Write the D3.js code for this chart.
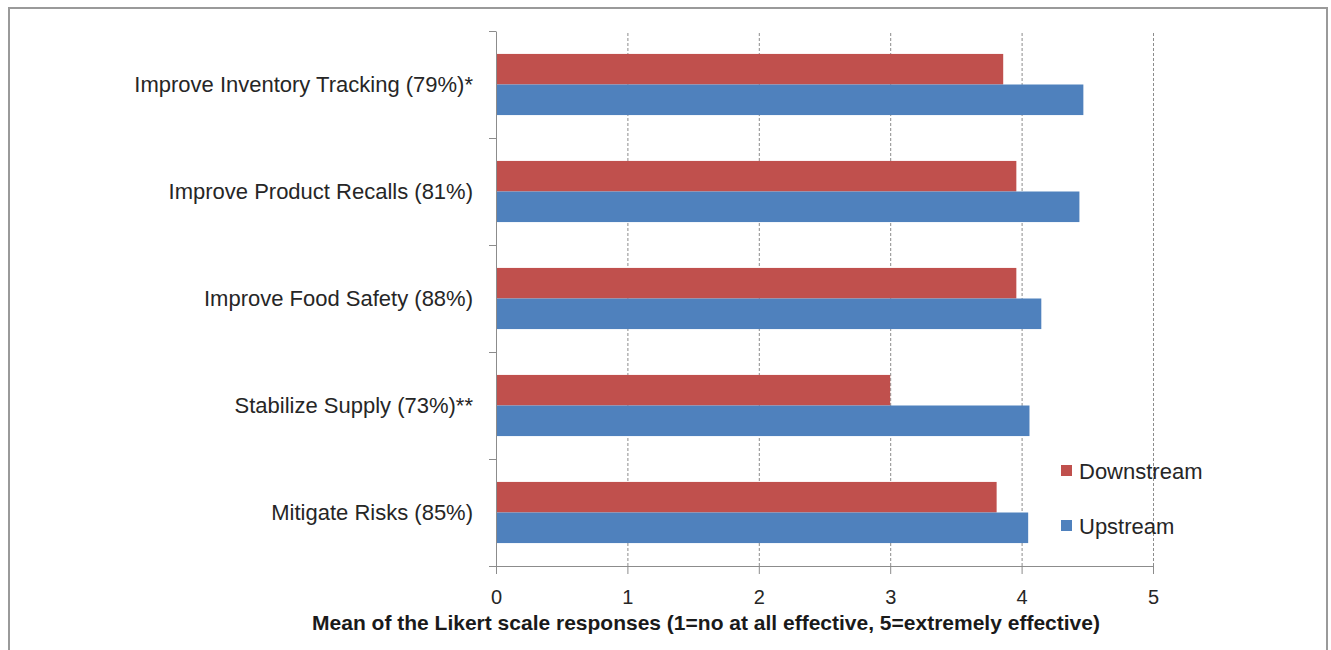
<!DOCTYPE html>
<html>
<head>
<meta charset="utf-8">
<script src="https://cdn.jsdelivr.net/npm/d3@7"></script>
<style>
  body { margin: 0; background: #fff; }
  svg { display: block; font-family: "Liberation Sans", Arial, sans-serif; }
</style>
</head>
<body>
<svg id="chart"></svg>
<script>
// categories top to bottom
const categories = [
  "Improve Inventory Tracking (79%)*",
  "Improve Product Recalls (81%)",
  "Improve Food Safety (88%)",
  "Stabilize Supply (73%)**",
  "Mitigate Risks (85%)"
];
const seriesNames = ["Downstream", "Upstream"];
const downstream = [3.86, 3.96, 3.96, 3.00, 3.81];
const upstream = [4.47, 4.44, 4.15, 4.06, 4.05];
const xTicks = [0, 1, 2, 3, 4, 5];
const colors = ["#C0504D", "#4F81BD"];
const axisTitle = "Mean of the Likert scale responses (1=no at all effective, 5=extremely effective)";

const width = 1331, height = 650;
const plot = { left: 496, right: 1153, top: 31, bottom: 566 };

const svg = d3.select("#chart")
  .attr("width", width)
  .attr("height", height);

// outer frame (bottom edge is cut off in the original)
svg.append("path")
  .attr("d", `M9,${height} V8 H1327 V${height}`)
  .attr("fill", "none")
  .attr("stroke", "#9a9a9a")
  .attr("stroke-width", 2);

const x = d3.scaleLinear().domain([0, 5]).range([plot.left, plot.right]);
const y = d3.scaleBand().domain(categories).range([plot.top, plot.bottom]);
const ySub = d3.scaleBand().domain(seriesNames).range([0, y.bandwidth()]).paddingOuter(0.75);
const yEdges = d3.scaleLinear().domain([0, categories.length]).range([plot.bottom, plot.top]);

// dashed gridlines
svg.append("g")
  .attr("transform", `translate(0,${plot.bottom})`)
  .call(d3.axisBottom(x).tickValues(xTicks.slice(1)).tickSize(-(plot.bottom - plot.top)).tickFormat(""))
  .call(g => g.select(".domain").remove())
  .selectAll("line")
  .attr("stroke", "#8c8c8c")
  .attr("stroke-width", 1)
  .attr("stroke-dasharray", "3,2");

// bars
const rows = categories.map((c, i) => ({ cat: c, values: [downstream[i], upstream[i]] }));
const groups = svg.append("g").selectAll("g")
  .data(rows)
  .enter().append("g")
  .attr("transform", d => `translate(0,${y(d.cat)})`);

groups.selectAll("rect")
  .data(d => d.values.map((v, j) => ({ name: seriesNames[j], value: v, color: colors[j] })))
  .enter().append("rect")
  .attr("x", x(0))
  .attr("y", d => ySub(d.name))
  .attr("width", d => x(d.value) - x(0))
  .attr("height", ySub.bandwidth())
  .attr("fill", d => d.color);

// y axis with ticks at category boundaries
const yAxis = svg.append("g")
  .attr("transform", `translate(${plot.left},0)`)
  .call(d3.axisLeft(yEdges).ticks(categories.length).tickSize(7).tickSizeOuter(0).tickFormat(""));
yAxis.selectAll("line, path").attr("stroke", "#8c8c8c");

// category labels
svg.append("g").selectAll("text")
  .data(categories)
  .enter().append("text")
  .attr("x", plot.left - 23)
  .attr("y", d => y(d) + y.bandwidth() / 2)
  .attr("dy", "0.35em")
  .attr("text-anchor", "end")
  .attr("font-size", 22)
  .attr("fill", "#262626")
  .text(d => d);

// x axis
const xAxis = svg.append("g")
  .attr("transform", `translate(0,${plot.bottom})`)
  .call(d3.axisBottom(x).tickValues(xTicks).tickFormat(d3.format("d")).tickSize(8).tickSizeOuter(0).tickPadding(16));
xAxis.attr("font-size", 20).attr("font-family", null);
xAxis.select(".domain").attr("d", `M${plot.left - 7},0.5H${plot.right}`);
xAxis.selectAll("line, path").attr("stroke", "#8c8c8c");
xAxis.selectAll("text").attr("fill", "#262626");

// axis title
svg.append("text")
  .attr("x", 706)
  .attr("y", 630)
  .attr("text-anchor", "middle")
  .attr("font-size", 21)
  .attr("font-weight", "bold")
  .attr("fill", "#1a1a1a")
  .text(axisTitle);

// legend
const legend = svg.append("g").selectAll("g")
  .data(seriesNames)
  .enter().append("g")
  .attr("transform", (d, i) => `translate(1061,${465 + i * 55})`);
legend.append("rect")
  .attr("width", 11)
  .attr("height", 11)
  .attr("fill", (d, i) => colors[i]);
legend.append("text")
  .attr("x", 18)
  .attr("y", 6)
  .attr("dy", "0.35em")
  .attr("font-size", 22)
  .attr("fill", "#262626")
  .text(d => d);
</script>
</body>
</html>
